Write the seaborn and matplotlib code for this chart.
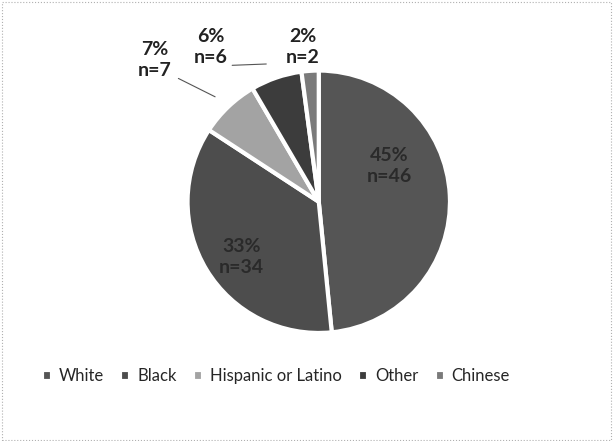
import matplotlib
matplotlib.use("Agg")
import matplotlib.pyplot as plt
import seaborn as sns
from matplotlib.patches import Rectangle

categories = ["White", "Black", "Hispanic or Latino", "Other", "Chinese"]
counts = [46, 34, 7, 6, 2]
percents = ["45%", "33%", "7%", "6%", "2%"]
colors = ["#555555", "#4d4d4d", "#a3a3a3", "#3c3c3c", "#7a7a7a"]

sns.set_style("white")
plt.rcParams["font.family"] = ["Lato", "DejaVu Sans"]

fig = plt.figure(figsize=(6.13, 4.41), dpi=100)
ax = fig.add_axes([0.305, 0.245, 0.43, 0.595])

wedges, _ = ax.pie(counts, colors=colors, startangle=90, counterclock=False,
                   wedgeprops=dict(edgecolor="white", linewidth=3))
ax.set_aspect("equal")
ax.set_xlim(-1, 1)
ax.set_ylim(-1, 1)
ax.axis("off")

labels = [f"{p}\nn={n}" for p, n in zip(percents, counts)]
fs = 14

# inside labels
ax.text(0.54, 0.27, labels[0], ha="center", va="center", fontsize=fs,
        fontweight="bold", color="#2a2a2a", linespacing=1.3)
ax.text(-0.59, -0.42, labels[1], ha="center", va="center", fontsize=fs,
        fontweight="bold", color="#2a2a2a", linespacing=1.3)

# outside labels with leader lines
ax.text(-1.25, 1.08, labels[2], ha="center", va="center", fontsize=fs,
        fontweight="bold", color="#222222", linespacing=1.3, clip_on=False)
ax.text(-0.82, 1.18, labels[3], ha="center", va="center", fontsize=fs,
        fontweight="bold", color="#222222", linespacing=1.3, clip_on=False)
ax.text(-0.12, 1.18, labels[4], ha="center", va="center", fontsize=fs,
        fontweight="bold", color="#222222", linespacing=1.3, clip_on=False)
ax.plot([-1.07, -0.79], [0.94, 0.8], color="#555555", lw=0.8, clip_on=False)
ax.plot([-0.66, -0.4], [1.04, 1.05], color="#555555", lw=0.8, clip_on=False)

fig.legend(wedges, categories, loc="center", bbox_to_anchor=(0.45, 0.147),
           ncol=5, frameon=False, fontsize=12, handlelength=0.6,
           handleheight=0.6, handletextpad=0.4, columnspacing=1.0)

fig.patches.append(Rectangle((0.003, 0.003), 0.994, 0.992, transform=fig.transFigure,
                             fill=False, edgecolor="#b0b0b0", lw=0.8, ls=":"))

fig.savefig("out.png", dpi=100)
